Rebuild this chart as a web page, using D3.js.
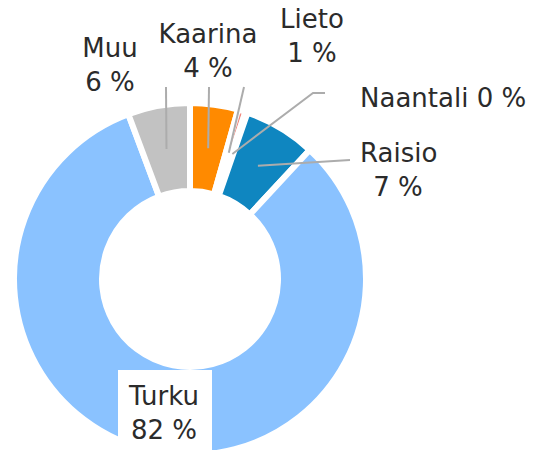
<!DOCTYPE html>
<html>
<head>
<meta charset="utf-8">
<script src="https://cdn.jsdelivr.net/npm/d3@7"></script>
<style>
  body { margin: 0; background: #fff; }
  text { font-family: "DejaVu Sans", sans-serif; fill: #2b2b2b; }
</style>
</head>
<body>
<div id="chart-area"></div>
<script>
var width = 537;
var height = 450;

// data, clockwise from the top
var kunnat = ["Kaarina", "Lieto", "Naantali", "Raisio", "Turku", "Muu"];
var osuudet = [4.4, 0.7, 0.2, 6.6, 82.4, 5.7];
var varit = ["#ff8a00", "#f08a80", "#e06060", "#0f86c0", "#8ac2ff", "#c2c2c2"];

// where each label sits (x, first baseline, anchor, one line or two, leader end)
var labelPos = {
	"Kaarina":  {x: 208, y: 43, anchor: "middle", lines: 2, end: [[209, 87]]},
	"Lieto":    {x: 312, y: 28, anchor: "middle", lines: 2, end: [[244, 87]]},
	"Naantali": {x: 360, y: 107, anchor: "start", lines: 1, end: [[313, 93], [325, 93]]},
	"Raisio":   {x: 360, y: 162, anchor: "start", lines: 2, x2: 398, end: [[350, 160]]},
	"Turku":    {x: 164, y: 405, anchor: "middle", lines: 2, box: true},
	"Muu":      {x: 110, y: 57, anchor: "middle", lines: 2, end: [[166, 87]]}
};

var cx = 190, cy = 279;
var outerR = 176, innerR = 88;

var svg = d3.select("#chart-area").append("svg")
	.attr("width", width)
	.attr("height", height);

var data = kunnat.map((k, i) => ({name: k, value: osuudet[i], color: varit[i]}));

var pie = d3.pie()
	.sort(null)
	.value(d => d.value);

var arc = d3.arc()
	.innerRadius(innerR)
	.outerRadius(outerR);

var g = svg.append("g")
	.attr("transform", "translate(" + cx + ", " + cy + ")");

var slices = pie(data);

g.selectAll("path")
	.data(slices)
	.enter()
	.append("path")
		.attr("d", arc)
		.attr("fill", d => d.data.color)
		.attr("stroke", "#fff")
		.attr("stroke-width", 6)
		.attr("stroke-linejoin", "round");

// leader lines from the slice centroids
slices.forEach(s => {
	var p = labelPos[s.data.name];
	if (!p.end) return;
	var c = arc.centroid(s);
	var pts = [[c[0] + cx, c[1] + cy]].concat(p.end);
	svg.append("path")
		.attr("d", d3.line()(pts))
		.attr("fill", "none")
		.attr("stroke", "#acacac")
		.attr("stroke-width", 2);
});

// labels
slices.forEach(s => {
	var p = labelPos[s.data.name];
	var pct = Math.round(s.data.value) + " %";
	if (p.box) {
		svg.append("rect")
			.attr("x", p.x - 46)
			.attr("y", p.y - 35)
			.attr("width", 94)
			.attr("height", 85)
			.attr("fill", "#fff");
	}
	var t = svg.append("text")
		.attr("font-size", "26px")
		.attr("text-anchor", p.anchor);
	if (p.lines == 1) {
		t.attr("x", p.x).attr("y", p.y).text(s.data.name + " " + pct);
	} else {
		t.append("tspan").attr("x", p.x).attr("y", p.y).text(s.data.name);
		t.append("tspan")
			.attr("x", p.x2 || p.x)
			.attr("y", p.y + 34)
			.attr("text-anchor", p.x2 ? "middle" : null)
			.text(pct);
	}
});
</script>
</body>
</html>
